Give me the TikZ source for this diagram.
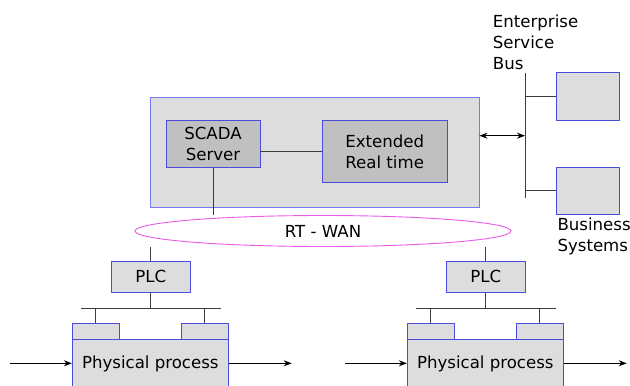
\documentclass[tikz,border=0pt]{standalone}
\usepackage{fontspec}
\setmainfont{DejaVu Sans}
\usetikzlibrary{arrows.meta,shapes.geometric}
\definecolor{boxfill}{RGB}{221,221,221}
\definecolor{darkfill}{RGB}{192,192,192}
\definecolor{boxline}{RGB}{75,75,220}
\definecolor{mainline}{RGB}{120,120,240}
\definecolor{wanline}{RGB}{232,90,232}
\definecolor{connline}{RGB}{60,60,60}
\begin{document}
\begin{tikzpicture}[x=1pt,y=-1pt,
  font=\fontsize{16.6}{21}\selectfont,
  lightbox/.style={draw=boxline, fill=boxfill, line width=0.9pt, inner sep=0pt},
  darkbox/.style={draw=boxline, fill=darkfill, line width=0.9pt, inner sep=0pt, align=center},
  conn/.style={draw=connline, line width=0.9pt},
  arr/.style={draw=black, line width=0.9pt, -{Stealth[length=8pt,width=6pt]}},
  darr/.style={draw=black, line width=0.9pt, {Stealth[length=8pt,width=6pt]}-{Stealth[length=8pt,width=6pt]}},
  lbl/.style={inner sep=0pt, align=left}]
\useasboundingbox (0,0) rectangle (630,386);
\clip (0,0) rectangle (630,386);

% central system
\node[lightbox, draw=mainline, minimum width=329pt, minimum height=110pt] (main) at (314.5,152) {};
\node[darkbox, minimum width=94pt, minimum height=46.6pt] (scada) at (213,144) {SCADA\\Server};
\node[darkbox, minimum width=125.3pt, minimum height=62pt] (ext) at (384.7,151.7) {Extended\\Real time};
\draw[conn] (scada.east |- ext.west) -- (ext.west);

% WAN
\node[ellipse, draw=wanline, line width=0.9pt, minimum width=376pt, minimum height=31pt, inner sep=0pt] (wan) at (323,231) {RT - WAN};
\draw[conn] (scada.south) -- (scada.south |- wan.north);

% enterprise service bus
\coordinate (busTop) at (525,73.3);
\coordinate (busBot) at (525,198.3);
\coordinate (busArr) at (525,135.7);
\draw[conn] (busTop) -- (busBot);
\node[lightbox, minimum width=62.7pt, minimum height=47.3pt] (bs1) at (587.7,96.4) {};
\node[lightbox, minimum width=62.7pt, minimum height=47pt] (bs2) at (587.7,190.5) {};
\draw[conn] (busTop |- bs1.west) -- (bs1.west);
\draw[conn] (busTop |- bs2.west) -- (bs2.west);
\draw[darr] (main.east |- busArr) -- (busArr);
\node[lbl, anchor=west] (esb) at (492.7,42) {Enterprise\\Service\\Bus};
\node[lbl, anchor=west] (bsys) at (557.3,236) {Business\\Systems};

% two field sites
\foreach \dx/\n in {0/a,335/b}{
  \begin{scope}[xshift=\dx pt]
    \node[lightbox, minimum width=78.3pt, minimum height=31pt] (plc\n) at (150.85,276.8) {PLC};
    \draw[conn] (plc\n.north) -- (plc\n.north |- wan.south);
    \coordinate (barL\n) at (81,308.3);
    \coordinate (barR\n) at (221,308.3);
    \draw[conn] (barL\n) -- (barR\n);
    \draw[conn] (plc\n.south) -- (plc\n.south |- barL\n);
    \node[lightbox, minimum width=47pt, minimum height=16pt] (sl\n) at (95.8,331.3) {};
    \node[lightbox, minimum width=47pt, minimum height=16pt] (sr\n) at (204.8,331.3) {};
    \draw[conn] (sl\n.north) -- (sl\n.north |- barL\n);
    \draw[conn] (sr\n.north) -- (sr\n.north |- barL\n);
    \node[lightbox, minimum width=156pt, minimum height=49pt] (pp\n) at (150.3,363.8) {Physical process};
    \coordinate (in\n) at (10,363.3);
    \coordinate (out\n) at (291.7,363.3);
    \draw[arr] (in\n) -- (pp\n.west |- in\n);
    \draw[arr] (pp\n.east |- in\n) -- (out\n);
  \end{scope}
}
\end{tikzpicture}
\end{document}
